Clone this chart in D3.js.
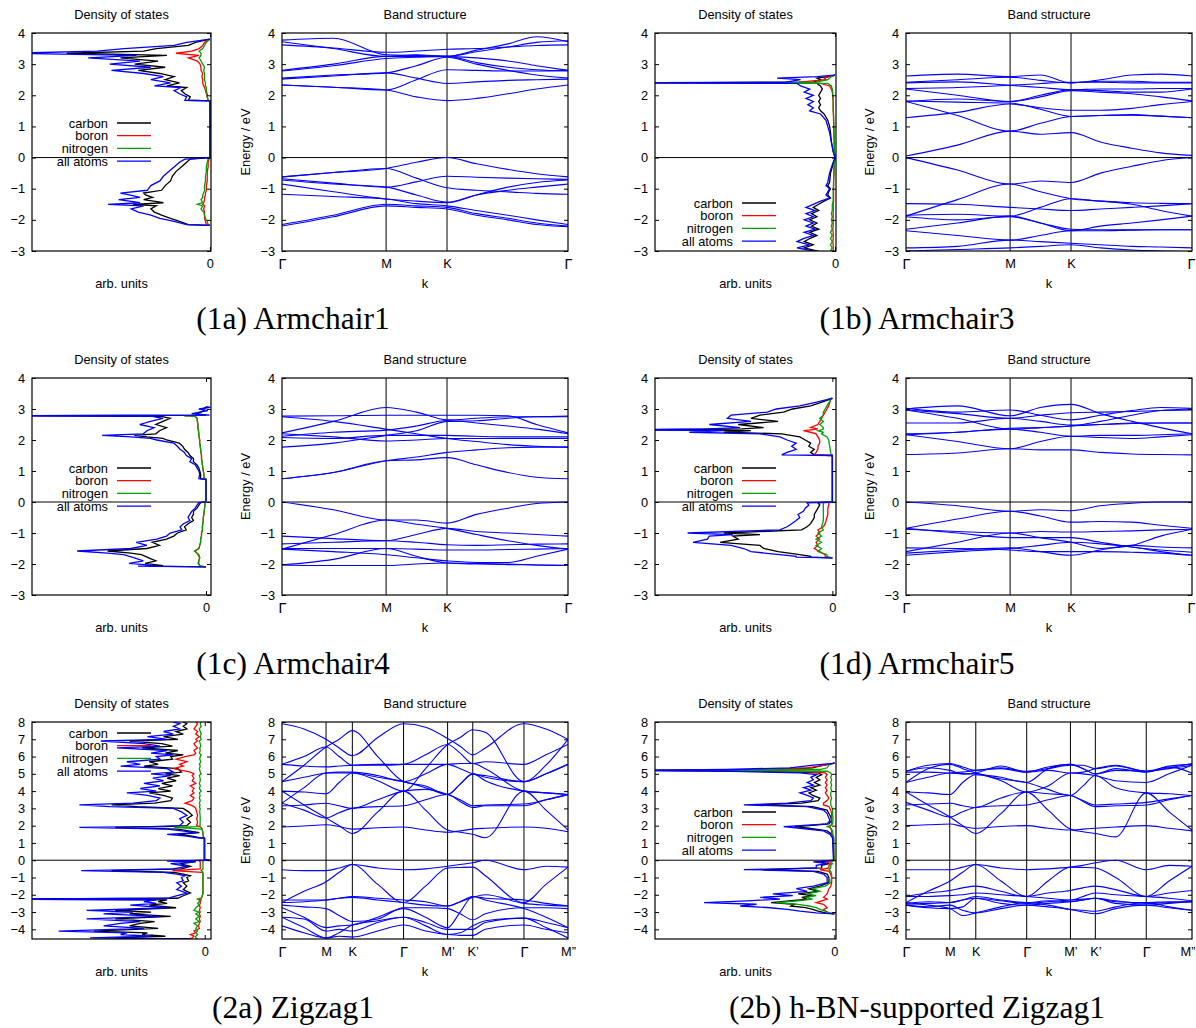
<!DOCTYPE html>
<html>
<head>
<meta charset="utf-8">
<script src="https://cdn.jsdelivr.net/npm/d3@7"></script>
<style>
  body { margin: 0; background: #fff; }
  text { font-family: "Liberation Sans", Arial, sans-serif; }
</style>
</head>
<body>
<div id="chart"></div>
<script>
// ---- DOS data: energy grid (eV) + carbon / boron / nitrogen / all atoms (arb. units) ----
const dos1aE = [-2.18,-2.15,-2.05,-1.95,-1.85,-1.75,-1.65,-1.55,-1.5,-1.45,-1.35,-1.28,-1.2,-1.14,-1.05,-0.9,-0.75,-0.6,-0.45,-0.3,-0.15,-0.05,0,
  1.82,1.84,1.95,2.05,2.15,2.25,2.3,2.4,2.5,2.6,2.7,2.8,2.9,3.0,3.1,3.2,3.28,3.35,3.42,3.5,3.6,3.7,3.8];
const dos1aC = [0,12,17,22,27,31,33,30,43,26,37,32,36,37,27,25,22,21,19,16,13,11,0,
  0,12,11,14,16,13,24,17,25,20,28,40,25,42,29,50,24,80,37,30,12,8,0];
const dos1aB = [0,2,2.5,3,3,3,3.5,3,4,3.5,3,3,2.5,2.5,2,2,1.5,1.5,1.5,1,1,0.5,0,
  0,1,1.5,2,2.5,3,3.5,4,4,4.5,4,5,5,5.5,7,12,6,19,10,6,4,3,0];
const dos1aN = [0,1,1.5,2.5,3,3.5,5,4,7,4,5,4,4,3.5,3,3,2.5,2.5,2,2,1.5,1,0,
  0,1,1.5,1.5,2,2,2.5,2.5,3,3,3,3.5,3,4,5,6,5,5,6,4,3,2,0];
const dos1aT = [0,13,20,28,33,40,44,37,57,39,51,39,45,50,35,33,28,26,23,20,17,14,0,
  0,14,13,17,20,16,31,22,33,26,37,55,33,56,39,68,41,110,63,48,20,13,0];

const dos1bE = [-3.1,-3.0,-2.9,-2.8,-2.7,-2.6,-2.5,-2.4,-2.3,-2.2,-2.1,-2.0,-1.9,-1.8,-1.7,-1.6,-1.5,-1.4,-1.3,-1.2,-1.1,-1.0,-0.9,-0.8,-0.5,-0.2,0,
  0.2,0.5,0.8,1.0,1.2,1.4,1.5,1.6,1.7,1.8,1.9,2.0,2.1,2.2,2.3,2.38,2.4,2.42,2.5,2.55,2.6,2.65];
const dos1bC = [14,10,17,12,17,14,10,14,9,13,10,14,10,13,9,12,9,6,2.5,4,3.5,2.5,4,3,2.5,1,0,
  1,2,2.5,3,4,6,8,9,8,9,8,9,8,7,8,10,112,12,8,10,4,0];
const dos1bB = [1,1,1,1,1.2,1,1,1,1.2,1,1,1,1,1,1,1,1,0.8,0.8,0.8,0.8,0.8,0.8,0.8,0.6,0.4,0,
  0.3,0.5,0.6,0.7,0.8,0.9,1,1,1,1,1.2,1.3,1.5,2,3,8,100,20,5,6,3,0];
const dos1bN = [1.5,2.5,1.5,2.5,1.5,2.5,1.5,2.5,1.5,2,1.5,2,1.5,2,1.5,1.5,1.5,1,1,1,1,1,0.8,0.8,0.6,0.4,0,
  0.3,0.4,0.5,0.6,0.7,0.8,0.9,1,1,1,1,1.2,1.3,1.5,2,4,100,10,4,3,2,0];
const dos1bT = [19,12,21,14,21,17.5,12,17,11,16,12,17,12,16,11,16,12,8,3,5,4,3,5,4,3,1.3,0,
  1,2,3,4,5,8,14,12,15,12,16,12,17,14,19,21,115,27,19,32,10,0];

const dos1cE = [-2.09,-2.07,-2.05,-1.98,-1.9,-1.8,-1.7,-1.65,-1.58,-1.5,-1.4,-1.3,-1.2,-1.1,-1.0,-0.9,-0.8,-0.7,-0.6,-0.5,-0.4,-0.3,-0.2,-0.1,-0.02,0,
  0.73,0.75,0.9,1.0,1.1,1.2,1.3,1.4,1.5,1.6,1.7,1.8,1.9,2.0,2.05,2.1,2.15,2.2,2.3,2.4,2.5,2.6,2.7,2.76,2.78,2.8,2.85,2.95,3.0,3.05,3.08];
const dos1cC = [0,32,24,34,28,32,36,42,55,33,26,30,22,18,16,11,12,10,7,8,7,7,5,4,3,0,
  0,3,3,3.5,4,5,7,7,9,10,12,13,15,22,24,33,40,28,26,22,28,24,20,25,112,1,5,1,2,0,0];
const dos1cB = [0,3,3.5,4,4,3.5,4,5,6,4,3.5,3,3,2.5,2.5,2,2,1.8,1.5,1.5,1.2,1,0.8,0.6,0.5,0,
  0,1,1.2,1.5,1.8,2,2.2,2.5,2.5,2.8,3,3.2,3.5,3.5,3.7,3.8,4,4,4.2,4.5,4.5,4.8,5,6,12,0,null,null,null,null,null];
const dos1cN = [0,3,3.5,4.5,4,3.5,4.5,5,6.5,4,3.5,3,3,2.5,2.5,2,2,1.8,1.5,1.5,1.2,1,0.8,0.6,0.5,0,
  0,1,1.2,1.5,1.8,2,2.2,2.5,2.5,2.8,3,3.2,3.5,3.5,3.7,3.8,4,4,4.2,4.5,4.5,4.8,5,6,12,0,null,null,null,null,null];
const dos1cT = [0,38,27.5,43,35,40,46,55,72,42,33,39,27.5,22,20,13.5,14.5,12.6,9,10,9,8,6,5,4,0,
  0,4,3.5,4,5,6,9,8,11,12,14.5,16,18,27.5,31,42,58,35,33,29,37,31,24,30,115,-2,8,-1,4,-2.5,0];

const dos1dE = [-1.8,-1.78,-1.75,-1.7,-1.6,-1.5,-1.4,-1.3,-1.2,-1.1,-1.05,-1.0,-0.9,-0.8,-0.7,-0.6,-0.5,-0.4,-0.3,-0.2,-0.1,-0.03,0,
  1.5,1.52,1.6,1.7,1.8,1.9,2.0,2.1,2.2,2.25,2.3,2.33,2.36,2.4,2.5,2.6,2.7,2.8,2.9,3.0,3.1,3.2,3.3,3.35];
const dos1dC = [0,12,12,18,30,38,40,62,52,55,40,60,17,14,12,11,10,10,9,8,7,8,0,
  0,10,12,10,13,12,15,18,28,60,45,112,50,38,52,30,45,40,27,22,12,7,2,0];
const dos1dB = [0,3,4,4,7,10,8,9,7,9,8,7,8,5,4,3.5,3,2.5,2.5,2.5,2,2,0,
  0,10,9,8,8,7,7,8,9,12,16,12,8,12,8,7,6,5,4,3,2,1.5,1,0];
const dos1dN = [0,2,3,3,8,6,9,6,9,6,7,8,5,6,5.5,5,5,5,5,5,5,5,0,
  0,0.5,1,1.2,1.5,1.8,2,3,6,5,8,6,5,5,7,5,7,5,5,4,3,2,1,0];
const dos1dT = [0,20,20,29,45,49,56,77,69,68,55,80,29,25,22.5,20,18,19,16,15,13,14,0,
  0,28,25,20,22.5,20,25,29,40,79,60,115,69,51,68,45,58,56,36,31,18,10.5,3,0];

const dos2aE = [-4.56,-4.5,-4.4,-4.3,-4.2,-4.1,-3.95,-3.8,-3.65,-3.55,-3.4,-3.25,-3.1,-3.0,-2.9,-2.75,-2.6,-2.5,-2.4,-2.3,
  -2.25,-2.2,-2.1,-1.9,-1.7,-1.5,-1.3,-1.2,-1.0,-0.9,-0.8,-0.7,-0.6,-0.5,-0.35,-0.2,-0.1,-0.05,0,
  0.05,1.28,1.3,1.4,1.5,1.6,1.8,1.9,1.95,2.0,2.2,2.4,2.6,2.8,3.0,3.1,3.2,3.3,3.45,3.6,3.75,3.9,4.0,4.15,4.3,4.45,
  4.6,4.75,4.9,5.0,5.1,5.3,5.45,5.55,5.7,5.85,6.0,6.1,6.2,6.35,6.5,6.6,6.75,6.9,7.0,7.15,7.3,7.45,7.6,7.75,7.9,8.0];
const dos2aC = [8,50,22,35,32,62,26,42,36,28,50,19,42,30,50,16,31,21,26,21,112,15,13,8,12,10,12,9,10,8,12,17,52,13,8,14,5,16,-2,
  0.2,0.2,3,7,15,3,15,50,22,10,8,10,7,9,12,38,52,28,19,18,23,31,19,26,18,24,16,21,14,22,13,15,34,26,31,18,19,12,22,15,
  35,18,24,42,15,23,12,16,10,12,10,12];
const dos2aB = [9,7,6,8,5,6,3,3.5,3,2.5,3,2.5,3,2.5,3,2.5,3,2.5,2.5,2,4,2,1.5,1,1,1,1,1,1,1,1,1.5,18,2.5,2.5,2.5,2.5,3,0,
  0,0,0.5,0.8,1,1,1.5,2,3,4.5,4,4.5,4,4.5,5,6,8,11,7,6,8,6,7,6,8,5,7,6,7,6,8,17.5,12,14,10,16,11,6,5,6,
  4,5,6,4,5,3,5,4,6,5,4,5];
const dos2aN = [4,5,5,4,5,4,5,4,6,3,5,3,5,3,6,5,3,4,3,3,4,2,1.5,1,1,1,1,1,1,1,1,1,2,1,1,1,1,1,0,
  0,0,0.5,0.8,1,1,1.5,17,3,2.6,2.6,2.5,2.6,2.8,2.6,3,2.6,3,2.5,3,2.6,3,2,3,2.5,3,2.5,2.6,3,2,2.5,3,2.5,3,2.2,2.8,
  2.5,2,3,2.5,2.8,2.2,2.5,3,2,2.5,2,2.5,3,2,2.5,2];
const dos2aT = [10,64,30,47,43.5,81.6,34,56.5,47,36,66,25,56.5,40,66,21,41.6,27,34,27,115,20,17.5,10,15.6,13,15.6,12,13,11,15.6,23,69,17.5,10,19,6,21,-3,
  0.3,0.3,4,10,21,4.5,21,70,30,14,12,14,10,13,17.5,53,70,40,27,25,32,43.5,27,36,25,34,23,29,19,30,17.5,21,47,36,43.5,25,27,17.5,30,21,
  49,25,34,58,21,32,17.5,23,14,17.5,14,17.5];

const dos2bE = [-3.1,-3.05,-2.95,-2.85,-2.75,-2.65,-2.55,-2.45,-2.35,-2.25,-2.15,-2.05,-1.95,-1.8,-1.65,-1.5,-1.3,-1.0,-0.8,-0.65,-0.55,-0.45,-0.3,-0.2,-0.1,0,
  1.3,1.5,1.7,1.85,1.95,2.0,2.1,2.3,2.5,2.7,2.9,3.1,3.2,3.3,3.45,3.6,3.75,3.9,4.05,4.2,4.35,4.5,4.65,4.8,4.95,5.05,5.15,5.2,5.25,5.35,5.5,5.6,5.65];
const dos2bC = [0,5,9,12,16,24,22,35,25,15,18,12,20,9,14,8,3,3,4,9,40,7,7,3,8,0.3,
  0.5,1.5,4,14,22,14,3,1.5,2,3,4,12,40,18,9,8,12,14,10,13,8,11,8,10,7,9,30,112,30,12,6,0.3,0];
const dos2bB = [0,3,5,6,4,5,6,10,7,4,6,5,4,3.5,3,2,1.5,1.5,2,3,8,3,3,2,4,0.3,
  1,1.5,1.5,2,2.5,2,1.5,1.5,1.5,1.5,2,3,6,6,4,3,4,5,4,5,4,5,4,5,4,5,20,100,40,15,5,1,0];
const dos2bN = [0,3,5,8,10,14,20,32,20,12,16,10,15,8,12,5,2,1.5,1.5,2,3,2,2,1,2,0.2,
  0.3,0.8,1,2,4,2,1,0.8,0.8,1,1,1.5,2,2,2,1.5,2,2,1.5,2,1.5,2,1.5,2,1.5,2,4,100,8,4,3,1,0];
const dos2bT = [0,10,19,26,35.5,52,43,72,48,30,41,23,34,15,21,11.6,4,4,6,11.6,50,10,10,4,11.6,0.5,
  1,2.4,6,19,28,19,4,2.4,3.3,4,6,15,50,26,13,11.6,15,19,13,17,11.6,15,11.6,13,9.8,19,56,115,59.5,24.5,11.6,0.5,0];

// ---- Band structure data: k positions along the path (fraction) and band energies (eV) ----
const kPath3 = [0, 0.18, 0.364, 0.47, 0.577, 0.68, 0.79, 0.89, 1];
const kTicks3 = [0, 0.364, 0.577, 1];
const kLabels3 = ["Γ", "M", "K", "Γ"];
const kPath2a = [0, 0.077, 0.154, 0.2, 0.246, 0.335, 0.425, 0.502, 0.579, 0.623, 0.667, 0.711, 0.846, 0.923, 1];
const kTicks2a = [0, 0.154, 0.246, 0.425, 0.579, 0.667, 0.846, 1];
const kPath2b = [0, 0.077, 0.154, 0.198, 0.243, 0.332, 0.421, 0.497, 0.575, 0.619, 0.662, 0.733, 0.840, 0.920, 1];
const kTicks2b = [0, 0.153, 0.244, 0.422, 0.575, 0.662, 0.840, 1];
const kLabels7 = ["Γ", "M", "K", "Γ", "M’", "K’", "Γ", "M”"];

const band1a = [
  [2.33,2.26,2.17,1.95,1.83,1.9,2.05,2.2,2.33],
  [2.33,2.26,2.17,2.5,2.82,2.8,2.78,2.78,2.8],
  [2.52,2.62,2.72,2.55,2.38,2.43,2.48,2.5,2.52],
  [2.55,2.65,2.72,2.95,3.22,3.0,2.8,2.65,2.55],
  [2.78,2.95,3.18,3.22,3.25,3.05,2.9,2.82,2.78],
  [2.8,3.0,3.25,3.25,3.25,3.4,3.55,3.7,3.75],
  [3.62,3.52,3.38,3.42,3.48,3.5,3.55,3.6,3.62],
  [3.72,3.5,3.25,3.3,3.25,3.45,3.65,3.88,3.72],
  [3.77,3.83,3.3,3.28,3.25,3.2,3.1,2.95,2.8],
  [-0.62,-0.48,-0.35,-0.15,0,-0.2,-0.38,-0.52,-0.62],
  [-0.68,-0.82,-0.95,-0.78,-0.6,-0.63,-0.66,-0.68,-0.7],
  [-0.62,-0.48,-0.35,-0.66,-0.97,-1.05,-1.1,-1.15,-1.18],
  [-0.72,-0.85,-0.95,-1.2,-1.43,-1.2,-1.05,-0.95,-0.85],
  [-0.85,-1.1,-1.33,-1.4,-1.45,-1.2,-0.95,-0.8,-0.72],
  [-1.18,-1.25,-1.33,-1.48,-1.55,-1.7,-1.85,-2.0,-2.15],
  [-2.15,-1.85,-1.5,-1.55,-1.6,-1.8,-1.95,-2.1,-2.2],
  [-2.2,-1.9,-1.55,-1.6,-1.65,-1.85,-2.0,-2.15,-2.22]
];
const band1b = [
  [0.05,0.4,0.85,0.75,0.8,0.5,0.3,0.15,0.07],
  [1.8,1.35,0.85,1.1,1.32,1.35,1.38,1.33,1.28],
  [1.28,1.45,1.72,1.6,1.52,1.52,1.58,1.7,1.8],
  [1.82,1.78,1.75,1.55,1.32,1.35,1.36,1.33,1.28],
  [1.8,1.88,1.8,2.0,2.18,2.15,2.1,2.1,2.2],
  [2.2,2.0,1.8,1.95,2.15,2.1,2.05,1.95,1.82],
  [2.22,2.25,2.32,2.38,2.42,2.42,2.4,2.4,2.4],
  [2.4,2.43,2.32,2.25,2.18,2.2,2.2,2.22,2.22],
  [2.42,2.5,2.58,2.48,2.4,2.5,2.65,2.68,2.62],
  [2.62,2.68,2.6,2.65,2.4,2.45,2.45,2.42,2.42],
  [0,-0.4,-0.85,-0.75,-0.8,-0.5,-0.28,-0.1,0],
  [-1.88,-1.35,-0.85,-1.1,-1.32,-1.4,-1.5,-1.7,-1.88],
  [-1.48,-1.5,-1.6,-1.65,-1.7,-1.65,-1.6,-1.55,-1.48],
  [-1.85,-1.82,-1.88,-1.6,-1.32,-1.4,-1.45,-1.47,-1.48],
  [-1.9,-2.0,-1.9,-2.1,-2.3,-2.32,-2.32,-2.32,-2.32],
  [-2.3,-2.1,-1.88,-2.1,-2.35,-2.2,-2.1,-2.0,-1.88],
  [-2.35,-2.5,-2.65,-2.5,-2.35,-2.35,-2.33,-2.32,-2.32],
  [-2.9,-2.85,-2.65,-2.7,-2.75,-2.8,-2.85,-2.87,-2.9],
  [-3.0,-2.95,-2.9,-2.85,-2.8,-2.9,-2.97,-3.0,-3.02]
];
const band1c = [
  [0.75,0.95,1.33,1.36,1.43,1.2,0.95,0.8,0.75],
  [0.75,0.95,1.33,1.45,1.6,1.68,1.75,1.77,1.77],
  [2.2,2.1,1.97,2.0,2.05,2.05,2.05,2.05,2.05],
  [1.77,1.9,2.15,2.3,2.6,2.62,2.7,2.75,2.75],
  [2.08,2.05,2.15,2.15,2.15,2.12,2.1,2.1,2.1],
  [2.12,2.25,2.32,2.45,2.63,2.55,2.45,2.35,2.2],
  [2.23,2.6,3.05,2.9,2.65,2.7,2.75,2.75,2.77],
  [2.75,2.6,2.35,2.2,2.05,1.95,1.85,1.8,1.77],
  [2.77,2.78,2.8,2.8,2.8,2.8,2.78,2.5,2.23],
  [0,-0.25,-0.58,-0.58,-0.68,-0.4,-0.2,-0.05,0],
  [-1.52,-1.05,-0.58,-0.72,-0.85,-1.05,-1.25,-1.4,-1.52],
  [-1.1,-1.18,-1.25,-1.05,-0.85,-0.95,-1.0,-1.05,-1.1],
  [-1.35,-1.3,-1.25,-1.3,-1.38,-1.4,-1.38,-1.36,-1.35],
  [-1.5,-1.5,-1.5,-1.52,-1.55,-1.55,-1.53,-1.52,-1.5],
  [-1.52,-1.6,-1.7,-1.8,-1.9,-1.95,-1.95,-1.75,-1.52],
  [-2.03,-1.85,-1.5,-1.75,-1.97,-2.0,-2.02,-2.03,-2.05],
  [-2.03,-2.05,-2.05,-2.0,-1.97,-1.98,-2.0,-2.03,-2.05]
];
const band1d = [
  [1.53,1.58,1.72,1.68,1.68,1.6,1.55,1.53,1.52],
  [2.17,1.95,1.72,1.95,2.12,2.08,2.05,2.1,2.17],
  [2.2,2.25,2.35,2.25,2.12,2.15,2.15,2.17,2.2],
  [2.17,2.25,2.38,2.4,2.45,2.5,2.53,2.55,2.55],
  [2.55,2.55,2.7,2.6,2.48,2.5,2.55,2.55,2.55],
  [2.97,2.7,2.35,2.4,2.45,2.6,2.8,2.95,3.0],
  [3.0,3.1,2.78,3.05,3.15,2.85,2.6,2.4,2.2],
  [3.02,2.9,2.97,2.8,2.65,2.8,2.95,3.05,3.02],
  [2.97,2.85,2.7,2.8,2.88,2.9,2.92,2.95,2.97],
  [0,-0.12,-0.3,-0.25,-0.28,-0.12,-0.04,0,0],
  [-0.85,-0.55,-0.3,-0.45,-0.65,-0.63,-0.65,-0.75,-0.85],
  [-0.88,-0.95,-1.0,-0.95,-0.97,-0.95,-0.93,-0.9,-0.88],
  [-0.85,-1.0,-1.15,-1.15,-1.15,-1.3,-1.45,-1.55,-1.62],
  [-1.6,-1.3,-1.0,-1.15,-1.3,-1.5,-1.4,-1.1,-0.88],
  [-1.65,-1.55,-1.48,-1.6,-1.72,-1.55,-1.4,-1.45,-1.48],
  [-1.72,-1.6,-1.5,-1.4,-1.3,-1.35,-1.45,-1.6,-1.72],
  [-1.48,-1.5,-1.55,-1.6,-1.6,-1.6,-1.62,-1.65,-1.72]
];
const band2a = [
  [1.92,1.98,2.05,1.95,1.8,1.88,1.92,1.75,1.62,1.7,1.8,1.85,1.92,1.85,1.65],
  [4.0,3.2,2.45,2.0,1.55,2.8,4.0,2.9,1.75,1.62,1.5,1.3,4.0,2.9,1.75],
  [3.3,2.9,2.45,2.75,3.0,3.1,3.15,3.5,3.8,3.4,3.05,3.15,3.15,3.5,3.8],
  [3.15,3.2,3.3,3.15,3.0,3.5,4.0,4.1,3.8,3.5,3.15,3.2,3.25,3.5,3.8],
  [3.3,4.2,5.05,5.05,5.05,4.8,4.55,4.2,3.8,4.4,5.0,4.6,4.0,3.9,3.8],
  [4.0,3.95,3.85,4.5,5.05,4.6,4.0,5.3,6.7,7.1,7.55,7.4,4.55,5.0,5.55],
  [4.55,5.5,6.55,7.0,7.5,6.0,4.55,4.3,3.8,4.4,5.0,4.8,4.55,5.0,5.55],
  [5.55,5.45,5.4,5.45,5.5,5.55,5.55,5.55,5.55,5.6,5.6,5.3,4.0,3.9,3.8],
  [7.9,7.6,7.0,6.5,6.05,7.1,7.9,7.7,7.05,6.6,6.1,6.5,7.9,7.6,7.0],
  [5.55,6.0,6.55,6.0,5.5,5.5,5.55,6.1,6.7,6.2,5.6,5.7,5.55,6.1,6.7],
  [4.55,4.8,5.05,5.1,5.1,4.9,4.55,5.0,5.55,5.3,5.0,4.9,4.55,5.5,7.0],
  [-0.55,-0.6,-0.6,-0.45,-0.25,-0.45,-0.55,-0.5,-0.35,-0.25,-0.15,0.0,-0.55,-0.35,-0.4],
  [-2.45,-1.8,-1.25,-0.7,-0.25,-1.4,-2.45,-1.5,-0.45,-0.42,-0.4,-0.9,-2.45,-1.4,-0.4],
  [-2.3,-2.3,-2.3,-2.2,-2.1,-2.2,-2.3,-2.4,-2.65,-2.4,-2.1,-2.2,-2.3,-2.5,-2.65],
  [-2.6,-2.7,-2.8,-3.2,-3.55,-3.4,-2.75,-2.75,-2.8,-3.1,-3.45,-3.1,-2.75,-2.75,-2.8],
  [-2.75,-3.3,-3.9,-3.8,-3.75,-3.3,-2.8,-3.3,-3.9,-3.0,-2.1,-2.3,-2.8,-3.3,-3.9],
  [-3.3,-3.4,-4.1,-4.0,-4.1,-3.6,-3.3,-3.6,-4.0,-4.0,-4.0,-3.6,-3.35,-3.6,-3.9],
  [-3.8,-4.2,-4.5,-4.4,-4.45,-4.1,-3.75,-4.1,-4.3,-4.35,-4.35,-4.0,-3.75,-4.0,-4.2],
  [-3.3,-3.9,-4.5,-4.2,-3.75,-3.5,-3.3,-3.8,-4.3,-4.2,-3.8,-3.5,-3.35,-3.9,-4.5],
  [-2.45,-2.4,-2.3,-2.2,-2.15,-2.3,-2.45,-2.6,-2.65,-2.4,-2.15,-2.0,-2.5,-2.6,-2.65]
];
const band2b = [
  [2.0,2.05,2.1,1.95,1.85,1.95,2.0,1.85,1.75,1.8,1.85,1.92,2.0,1.85,1.7],
  [3.95,3.2,2.5,2.0,1.55,2.7,3.95,2.9,1.8,1.65,1.55,1.35,3.9,2.8,1.75],
  [3.35,2.9,2.5,2.8,3.05,3.15,3.2,3.5,3.75,3.4,3.1,3.15,3.2,3.5,3.75],
  [3.2,3.25,3.3,3.15,3.05,3.6,3.95,3.85,3.75,3.45,3.2,3.25,3.35,3.55,3.75],
  [3.95,3.9,3.8,4.5,4.95,4.7,4.5,4.1,3.75,4.3,4.9,4.2,3.9,3.85,3.75],
  [4.5,4.8,5.05,5.0,5.0,4.6,3.95,4.3,5.05,5.0,4.9,4.6,4.5,5.0,5.5],
  [4.5,5.3,5.55,5.3,5.05,4.8,4.5,5.3,5.55,5.3,5.0,5.2,5.15,5.3,5.5],
  [5.1,5.1,5.05,5.1,5.2,5.3,5.1,5.2,5.05,5.1,5.3,5.5,5.15,5.4,5.05],
  [5.15,5.35,5.2,5.0,5.05,5.45,5.1,5.4,5.55,5.3,5.0,5.3,5.1,5.45,5.55],
  [5.15,5.5,5.6,5.4,5.2,5.35,5.15,5.3,5.5,5.5,5.3,5.45,5.15,5.35,5.6],
  [-0.55,-0.55,-0.55,-0.4,-0.25,-0.45,-0.55,-0.5,-0.4,-0.3,-0.15,0.0,-0.55,-0.3,-0.35],
  [-2.45,-1.8,-1.2,-0.7,-0.25,-1.2,-2.1,-1.2,-0.4,-0.42,-0.45,-1.0,-2.1,-1.2,-0.35],
  [-2.1,-1.9,-1.75,-1.6,-1.5,-1.8,-2.1,-1.9,-1.75,-1.6,-1.5,-1.7,-2.1,-1.9,-1.75],
  [-2.1,-2.1,-2.05,-2.0,-1.9,-2.0,-2.1,-2.2,-2.3,-2.1,-1.9,-2.0,-2.1,-2.2,-2.35],
  [-2.45,-2.6,-2.8,-3.2,-3.05,-2.7,-2.45,-2.6,-2.85,-2.9,-2.95,-2.7,-2.45,-2.7,-2.9],
  [-2.55,-2.5,-2.45,-2.3,-2.2,-2.35,-2.5,-2.4,-2.3,-2.25,-2.2,-2.35,-2.5,-2.45,-2.4],
  [-2.6,-2.7,-2.6,-2.9,-3.05,-2.8,-2.6,-2.7,-2.85,-3.0,-3.1,-2.8,-2.6,-2.75,-2.9],
  [-2.5,-2.4,-2.45,-2.3,-2.1,-2.3,-2.45,-2.35,-2.4,-2.3,-2.2,-2.4,-2.45,-2.4,-2.4],
  [-2.6,-2.75,-2.8,-2.7,-2.2,-2.5,-2.6,-2.5,-2.4,-2.3,-2.2,-2.5,-2.6,-2.5,-2.4]
];

const species = ["carbon", "boron", "nitrogen", "all atoms"];
const speciesColor = ["#000000", "#ff0000", "#00a000", "#0000ff"];
const captions = ["(1a) Armchair1", "(1b) Armchair3", "(1c) Armchair4", "(1d) Armchair5", "(2a) Zigzag1", "(2b) h-BN-supported Zigzag1"];

// layout of the 3x2 grid
const width = 1196, height = 1028;
const cols = [
  { dos: [32, 211], band: [282, 568], legX: 108, cap: 293 },
  { dos: [655, 836], band: [906, 1192], legX: 733, cap: 917 }
];
const rows = [[33, 251], [378, 595], [722, 939]];
const captionY = [329, 674, 1018];

const panels = [
  { col: 0, row: 0, yDom: [-3, 4], zero: -0.6, legY: 90, E: dos1aE, dos: [dos1aC, dos1aB, dos1aN, dos1aT], k: kPath3, ticks: kTicks3, labels: kLabels3, bands: band1a },
  { col: 1, row: 0, yDom: [-3, 4], zero: -0.55, legY: 170, E: dos1bE, dos: [dos1bC, dos1bB, dos1bN, dos1bT], k: kPath3, ticks: kTicks3, labels: kLabels3, bands: band1b },
  { col: 0, row: 1, yDom: [-3, 4], zero: -2.8, legY: 90, E: dos1cE, dos: [dos1cC, dos1cB, dos1cN, dos1cT], k: kPath3, ticks: kTicks3, labels: kLabels3, bands: band1c },
  { col: 1, row: 1, yDom: [-3, 4], zero: -2.0, legY: 90, E: dos1dE, dos: [dos1dC, dos1dB, dos1dN, dos1dT], k: kPath3, ticks: kTicks3, labels: kLabels3, bands: band1d },
  { col: 0, row: 2, yDom: [-4.56, 8], zero: -3.5, legY: 11, E: dos2aE, dos: [dos2aC, dos2aB, dos2aN, dos2aT], k: kPath2a, ticks: kTicks2a, labels: kLabels7, bands: band2a },
  { col: 1, row: 2, yDom: [-4.56, 8], zero: -0.9, legY: 90, E: dos2bE, dos: [dos2bC, dos2bB, dos2bN, dos2bT], k: kPath2b, ticks: kTicks2b, labels: kLabels7, bands: band2b }
];

const svg = d3.select("#chart").append("svg")
  .attr("width", width).attr("height", height)
  .style("background", "#fff");

const intFmt = d3.format("d");

function styleAxis(g) {
  g.select(".domain").remove();
  g.attr("font-family", "Liberation Sans, Arial, sans-serif").attr("font-size", 12.8);
  g.selectAll(".tick line").attr("stroke", "#000");
  g.selectAll(".tick text").attr("fill", "#000");
}

panels.forEach((p, i) => {
  const c = cols[p.col];
  const [top, bottom] = rows[p.row];
  const y = d3.scaleLinear().domain(p.yDom).range([bottom, top]);
  const yTicks = d3.range(Math.ceil(p.yDom[0]), Math.floor(p.yDom[1]) + 1);

  // ---------- density of states ----------
  const [dl, dr] = c.dos;
  const x = d3.scaleLinear().domain([p.zero + 100, p.zero]).range([dl, dr]);
  const g = svg.append("g");
  g.append("clipPath").attr("id", "clipd" + i)
    .append("rect").attr("x", dl).attr("y", top).attr("width", dr - dl).attr("height", bottom - top);

  g.append("line").attr("x1", dl).attr("x2", dr).attr("y1", y(0)).attr("y2", y(0))
    .attr("stroke", "#000").attr("stroke-width", 1);

  const dosLine = d3.line()
    .defined(d => d[0] != null)
    .x(d => x(d[0])).y(d => y(d[1]));
  p.dos.forEach((vals, s) => {
    const pts = vals.map((v, j) => [v, p.E[j]]);
    g.append("path").datum(pts)
      .attr("clip-path", `url(#clipd${i})`)
      .attr("fill", "none").attr("stroke", speciesColor[s]).attr("stroke-width", 1.3)
      .attr("d", dosLine);
  });

  g.append("rect").attr("x", dl).attr("y", top).attr("width", dr - dl).attr("height", bottom - top)
    .attr("fill", "none").attr("stroke", "#000").attr("stroke-width", 1.2);

  g.append("g").attr("transform", `translate(${dl},0)`)
    .call(d3.axisLeft(y).tickValues(yTicks).tickFormat(intFmt).tickSizeInner(-4).tickSizeOuter(0).tickPadding(7)).call(styleAxis);
  g.append("g").attr("transform", `translate(${dr},0)`)
    .call(d3.axisRight(y).tickValues(yTicks).tickSizeInner(-4).tickSizeOuter(0).tickFormat("")).call(styleAxis);
  g.append("g").attr("transform", `translate(0,${bottom})`)
    .call(d3.axisBottom(x).tickValues([0]).tickSizeInner(-4).tickSizeOuter(0).tickPadding(8).tickFormat(intFmt)).call(styleAxis);
  g.append("g").attr("transform", `translate(0,${top})`)
    .call(d3.axisTop(x).tickValues([0]).tickSizeInner(-4).tickSizeOuter(0).tickFormat("")).call(styleAxis);

  g.append("text").attr("x", (dl + dr) / 2).attr("y", top - 14).attr("text-anchor", "middle")
    .attr("font-size", 12.8).text("Density of states");
  g.append("text").attr("x", (dl + dr) / 2).attr("y", bottom + 37).attr("text-anchor", "middle")
    .attr("font-size", 12.8).text("arb. units");

  species.forEach((name, s) => {
    const ly = top + p.legY + s * 12.7;
    g.append("text").attr("x", c.legX).attr("y", ly + 4.5).attr("text-anchor", "end")
      .attr("font-size", 12.8).text(name);
    g.append("line").attr("x1", c.legX + 9).attr("x2", c.legX + 43).attr("y1", ly).attr("y2", ly)
      .attr("stroke", speciesColor[s]).attr("stroke-width", 1.3);
  });

  // ---------- band structure ----------
  const [bl, br] = c.band;
  const kx = d3.scaleLinear().domain([0, 1]).range([bl, br]);
  const b = svg.append("g");
  b.append("clipPath").attr("id", "clipb" + i)
    .append("rect").attr("x", bl).attr("y", top).attr("width", br - bl).attr("height", bottom - top);

  b.append("line").attr("x1", bl).attr("x2", br).attr("y1", y(0)).attr("y2", y(0))
    .attr("stroke", "#000").attr("stroke-width", 1);
  b.selectAll(".sym").data(p.ticks.slice(1, -1)).join("line")
    .attr("x1", d => kx(d)).attr("x2", d => kx(d)).attr("y1", top).attr("y2", bottom)
    .attr("stroke", "#000").attr("stroke-width", 1);

  const bandLine = d3.line().curve(d3.curveMonotoneX)
    .x((d, j) => kx(p.k[j])).y(d => y(d));
  b.append("g").attr("clip-path", `url(#clipb${i})`)
    .selectAll("path").data(p.bands).join("path")
    .attr("fill", "none").attr("stroke", "#0000ff").attr("stroke-width", 1.1)
    .attr("d", bandLine);

  b.append("rect").attr("x", bl).attr("y", top).attr("width", br - bl).attr("height", bottom - top)
    .attr("fill", "none").attr("stroke", "#000").attr("stroke-width", 1.2);

  b.append("g").attr("transform", `translate(${bl},0)`)
    .call(d3.axisLeft(y).tickValues(yTicks).tickFormat(intFmt).tickSizeInner(-4).tickSizeOuter(0).tickPadding(7)).call(styleAxis);
  b.append("g").attr("transform", `translate(${br},0)`)
    .call(d3.axisRight(y).tickValues(yTicks).tickSizeInner(-4).tickSizeOuter(0).tickFormat("")).call(styleAxis);
  const kAxis = b.append("g").attr("transform", `translate(0,${bottom})`)
    .call(d3.axisBottom(kx).tickValues(p.ticks).tickSize(0).tickPadding(8)
      .tickFormat((d, j) => p.labels[j])).call(styleAxis);
  kAxis.selectAll(".tick text")
    .attr("font-family", function () { return this.textContent === "Γ" ? "Liberation Serif, serif" : null; })
    .attr("font-size", function () { return this.textContent === "Γ" ? 14.5 : 12.8; });
  // keep the last label of the right-hand panels inside the page
  if (br + 8 > width) {
    kAxis.selectAll(".tick text").filter((d, j, n) => j === n.length - 1)
      .attr("text-anchor", "end").attr("x", width - 1 - br);
  }

  b.append("text").attr("x", (bl + br) / 2).attr("y", top - 14).attr("text-anchor", "middle")
    .attr("font-size", 12.8).text("Band structure");
  b.append("text").attr("x", (bl + br) / 2).attr("y", bottom + 37).attr("text-anchor", "middle")
    .attr("font-size", 12.8).text("k");
  b.append("text").attr("transform", `translate(${bl - 32},${(top + bottom) / 2}) rotate(-90)`)
    .attr("text-anchor", "middle").attr("font-size", 12.8).text("Energy / eV");

  // caption
  svg.append("text").attr("x", c.cap).attr("y", captionY[p.row]).attr("text-anchor", "middle")
    .style("font-family", "'Liberation Serif', 'Times New Roman', serif").style("font-size", "31.5px")
    .text(captions[i]);
});
</script>
</body>
</html>
